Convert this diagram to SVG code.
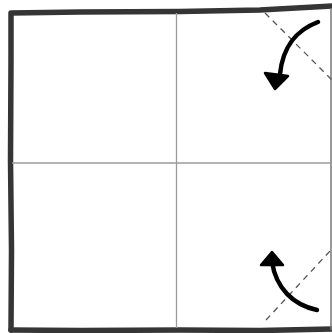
<svg xmlns="http://www.w3.org/2000/svg" width="332" height="333" viewBox="0 0 332 333">
<defs>
<style>
.border{fill:none;stroke:#353535;stroke-width:5.5;stroke-linejoin:round;stroke-linecap:round}
.grid{fill:none;stroke:#9a9a9a;stroke-width:1.3}
.dash{fill:none;stroke:#555;stroke-width:1.3;stroke-dasharray:6,5}
.arrow{fill:none;stroke:#000;stroke-width:4.5;stroke-linecap:round}
.head{fill:#000;stroke:#000;stroke-width:2.5;stroke-linejoin:round}
</style>
</defs>
<rect width="332" height="333" fill="#fff"/>
<g id="square">
<path class="border" d="M11,330 L11.5,250 L10.5,160 L11,60 L11,13 L80,12 L180,11.5 L260,10 L334,6"/>
<path class="border" d="M11,330 L80,330.5 L180,330 L260,330.5 L334,329"/>
<line x1="331" y1="8" x2="331" y2="330" stroke="#777" stroke-width="1.5"/>
</g>
<g id="creases">
<line class="grid" x1="176.5" y1="13" x2="176.5" y2="328"/>
<line class="grid" x1="12" y1="163" x2="331" y2="163"/>
</g>
<g id="fold-lines">
<line class="dash" x1="265" y1="13" x2="332" y2="80"/>
<line class="dash" x1="266" y1="320" x2="330" y2="251"/>
</g>
<g id="connectors">
<path class="arrow" d="M318,22 C297,30 283,45 280,74"/>
<polygon class="head" points="265,73 288,76 275,89"/>
<path class="arrow" d="M317,310 C293,305 276,288 272,262"/>
<polygon class="head" points="261,265 283,265 272,252"/>
</g>
</svg>
